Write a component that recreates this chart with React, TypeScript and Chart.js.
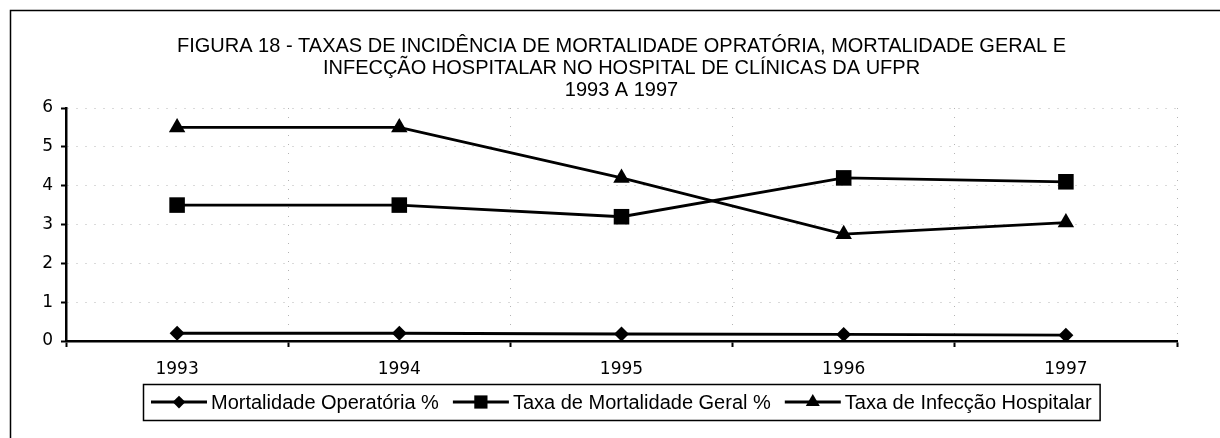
import React, { useEffect, useRef } from "react";
import { Chart, registerables } from "chart.js";
import { drawPoint } from "chart.js/helpers";

Chart.register(...registerables);

const categories = ["1993", "1994", "1995", "1996", "1997"];
const mortalidadeOperatoria = [0.2, 0.2, 0.18, 0.17, 0.15];
const mortalidadeGeral = [3.5, 3.5, 3.2, 4.2, 4.1];
const infeccaoHospitalar = [5.5, 5.5, 4.2, 2.75, 3.05];
const seriesNames = [
  "Mortalidade Operatória %",
  "Taxa de Mortalidade Geral %",
  "Taxa de Infecção Hospitalar",
];
const titleLines = [
  "FIGURA 18 - TAXAS DE INCIDÊNCIA DE MORTALIDADE OPRATÓRIA, MORTALIDADE GERAL E",
  "INFECÇÃO HOSPITALAR NO HOSPITAL DE CLÍNICAS DA UFPR",
  "1993 A 1997",
];
const yTicks = [0, 1, 2, 3, 4, 5, 6];

const SANS = '"Liberation Sans", Arial, sans-serif';
const TICKFONT = '"DejaVu Sans", sans-serif';

const decorPlugin = {
  id: "decor",
  beforeDraw(chart: any) {
    const ctx = chart.ctx;
    ctx.save();
    ctx.fillStyle = "#fff";
    ctx.fillRect(0, 0, chart.width, chart.height);
    ctx.strokeStyle = "#000";
    ctx.lineWidth = 1.5;
    ctx.beginPath();
    ctx.moveTo(10.5, chart.height);
    ctx.lineTo(10.5, 10.5);
    ctx.lineTo(chart.width, 10.5);
    ctx.stroke();
    ctx.restore();
  },
  afterDraw(chart: any) {
    const ctx = chart.ctx;
    const area = chart.chartArea;
    const cx = (area.left + area.right) / 2;
    ctx.save();
    ctx.fillStyle = "#000";
    ctx.font = `20px ${SANS}`;
    ctx.textAlign = "center";
    ctx.textBaseline = "middle";
    titleLines.forEach((t, i) => ctx.fillText(t, cx, 46 + i * 22));

    // legend
    const sampleW = 56;
    const gapAfterSample = 4;
    const gapBetween = 14;
    const padX = 8;
    const widths = seriesNames.map((n) => ctx.measureText(n).width);
    const total =
      widths.reduce((a, b) => a + b, 0) +
      seriesNames.length * (sampleW + gapAfterSample) +
      (seriesNames.length - 1) * gapBetween +
      padX * 2;
    const boxTop = 384;
    const boxH = 36;
    const left = Math.round(cx - total / 2);
    ctx.strokeStyle = "#000";
    ctx.lineWidth = 1.5;
    ctx.strokeRect(left + 0.5, boxTop + 0.5, total, boxH);
    const cy = boxTop + boxH / 2;
    let x = left + padX;
    ctx.textAlign = "left";
    chart.data.datasets.forEach((ds: any, i: number) => {
      ctx.strokeStyle = "#000";
      ctx.lineWidth = 2.8;
      ctx.beginPath();
      ctx.moveTo(x, cy);
      ctx.lineTo(x + sampleW, cy);
      ctx.stroke();
      ctx.fillStyle = "#000";
      drawPoint(
        ctx,
        { pointStyle: ds.pointStyle, radius: ds.pointRadius * 0.85, rotation: 0, borderWidth: 0 } as any,
        x + sampleW / 2,
        cy
      );
      x += sampleW + gapAfterSample;
      ctx.fillStyle = "#000";
      ctx.fillText(seriesNames[i], x, cy + 1);
      x += widths[i] + gapBetween;
    });
    ctx.restore();
  },
};

export default function App() {
  const ref = useRef<HTMLCanvasElement | null>(null);
  useEffect(() => {
    if (!ref.current) return;
    const common = {
      borderColor: "#000",
      borderWidth: 2.8,
      pointBackgroundColor: "#000",
      pointBorderColor: "#000",
      pointBorderWidth: 0,
      tension: 0,
      fill: false,
    };
    const chart = new Chart(ref.current, {
      type: "line",
      data: {
        labels: categories,
        datasets: [
          { ...common, label: seriesNames[0], data: mortalidadeOperatoria, pointStyle: "rectRot", pointRadius: 7.5 },
          { ...common, label: seriesNames[1], data: mortalidadeGeral, pointStyle: "rect", pointRadius: 11 },
          { ...common, label: seriesNames[2], data: infeccaoHospitalar, pointStyle: "triangle", pointRadius: 9.5 },
        ],
      },
      options: {
        responsive: false,
        animation: false,
        events: [],
        layout: { padding: { top: 108, left: 10, right: 43, bottom: 57 } },
        plugins: {
          legend: { display: false },
          title: { display: false },
          tooltip: { enabled: false },
        },
        scales: {
          x: {
            type: "category",
            offset: true,
            grid: {
              display: true,
              offset: true,
              color: "#b4b4b4",
              lineWidth: 1,
              drawTicks: true,
              tickLength: 6,
              tickColor: "#000",
              tickWidth: 2,
            },
            border: { display: true, color: "#000", width: 2.5, dash: [1, 8] },
            ticks: {
              color: "#000",
              font: { family: TICKFONT, size: 17 },
              padding: 12,
              maxRotation: 0,
              autoSkip: false,
            },
            afterFit(s: any) {
              s.height = 40;
            },
          },
          y: {
            min: 0,
            max: 6,
            afterBuildTicks(s: any) {
              s.ticks = yTicks.map((v) => ({ value: v }));
            },
            grid: {
              display: true,
              color: "#b4b4b4",
              lineWidth: 1,
              drawTicks: true,
              tickLength: 5,
              tickColor: "#000",
              tickWidth: 2,
            },
            border: { display: true, color: "#000", width: 2.5, dash: [1, 8] },
            ticks: {
              color: "#000",
              font: { family: TICKFONT, size: 17 },
              padding: 8,
            },
            afterFit(s: any) {
              s.width = 56;
            },
          },
        },
      },
      plugins: [decorPlugin],
    } as any);
    return () => chart.destroy();
  }, []);
  return (
    <div style={{ position: "fixed", left: 0, top: 0, width: 1220, height: 438 }}>
      <canvas ref={ref} width={1220} height={438} style={{ width: 1220, height: 438, display: "block" }} />
    </div>
  );
}
